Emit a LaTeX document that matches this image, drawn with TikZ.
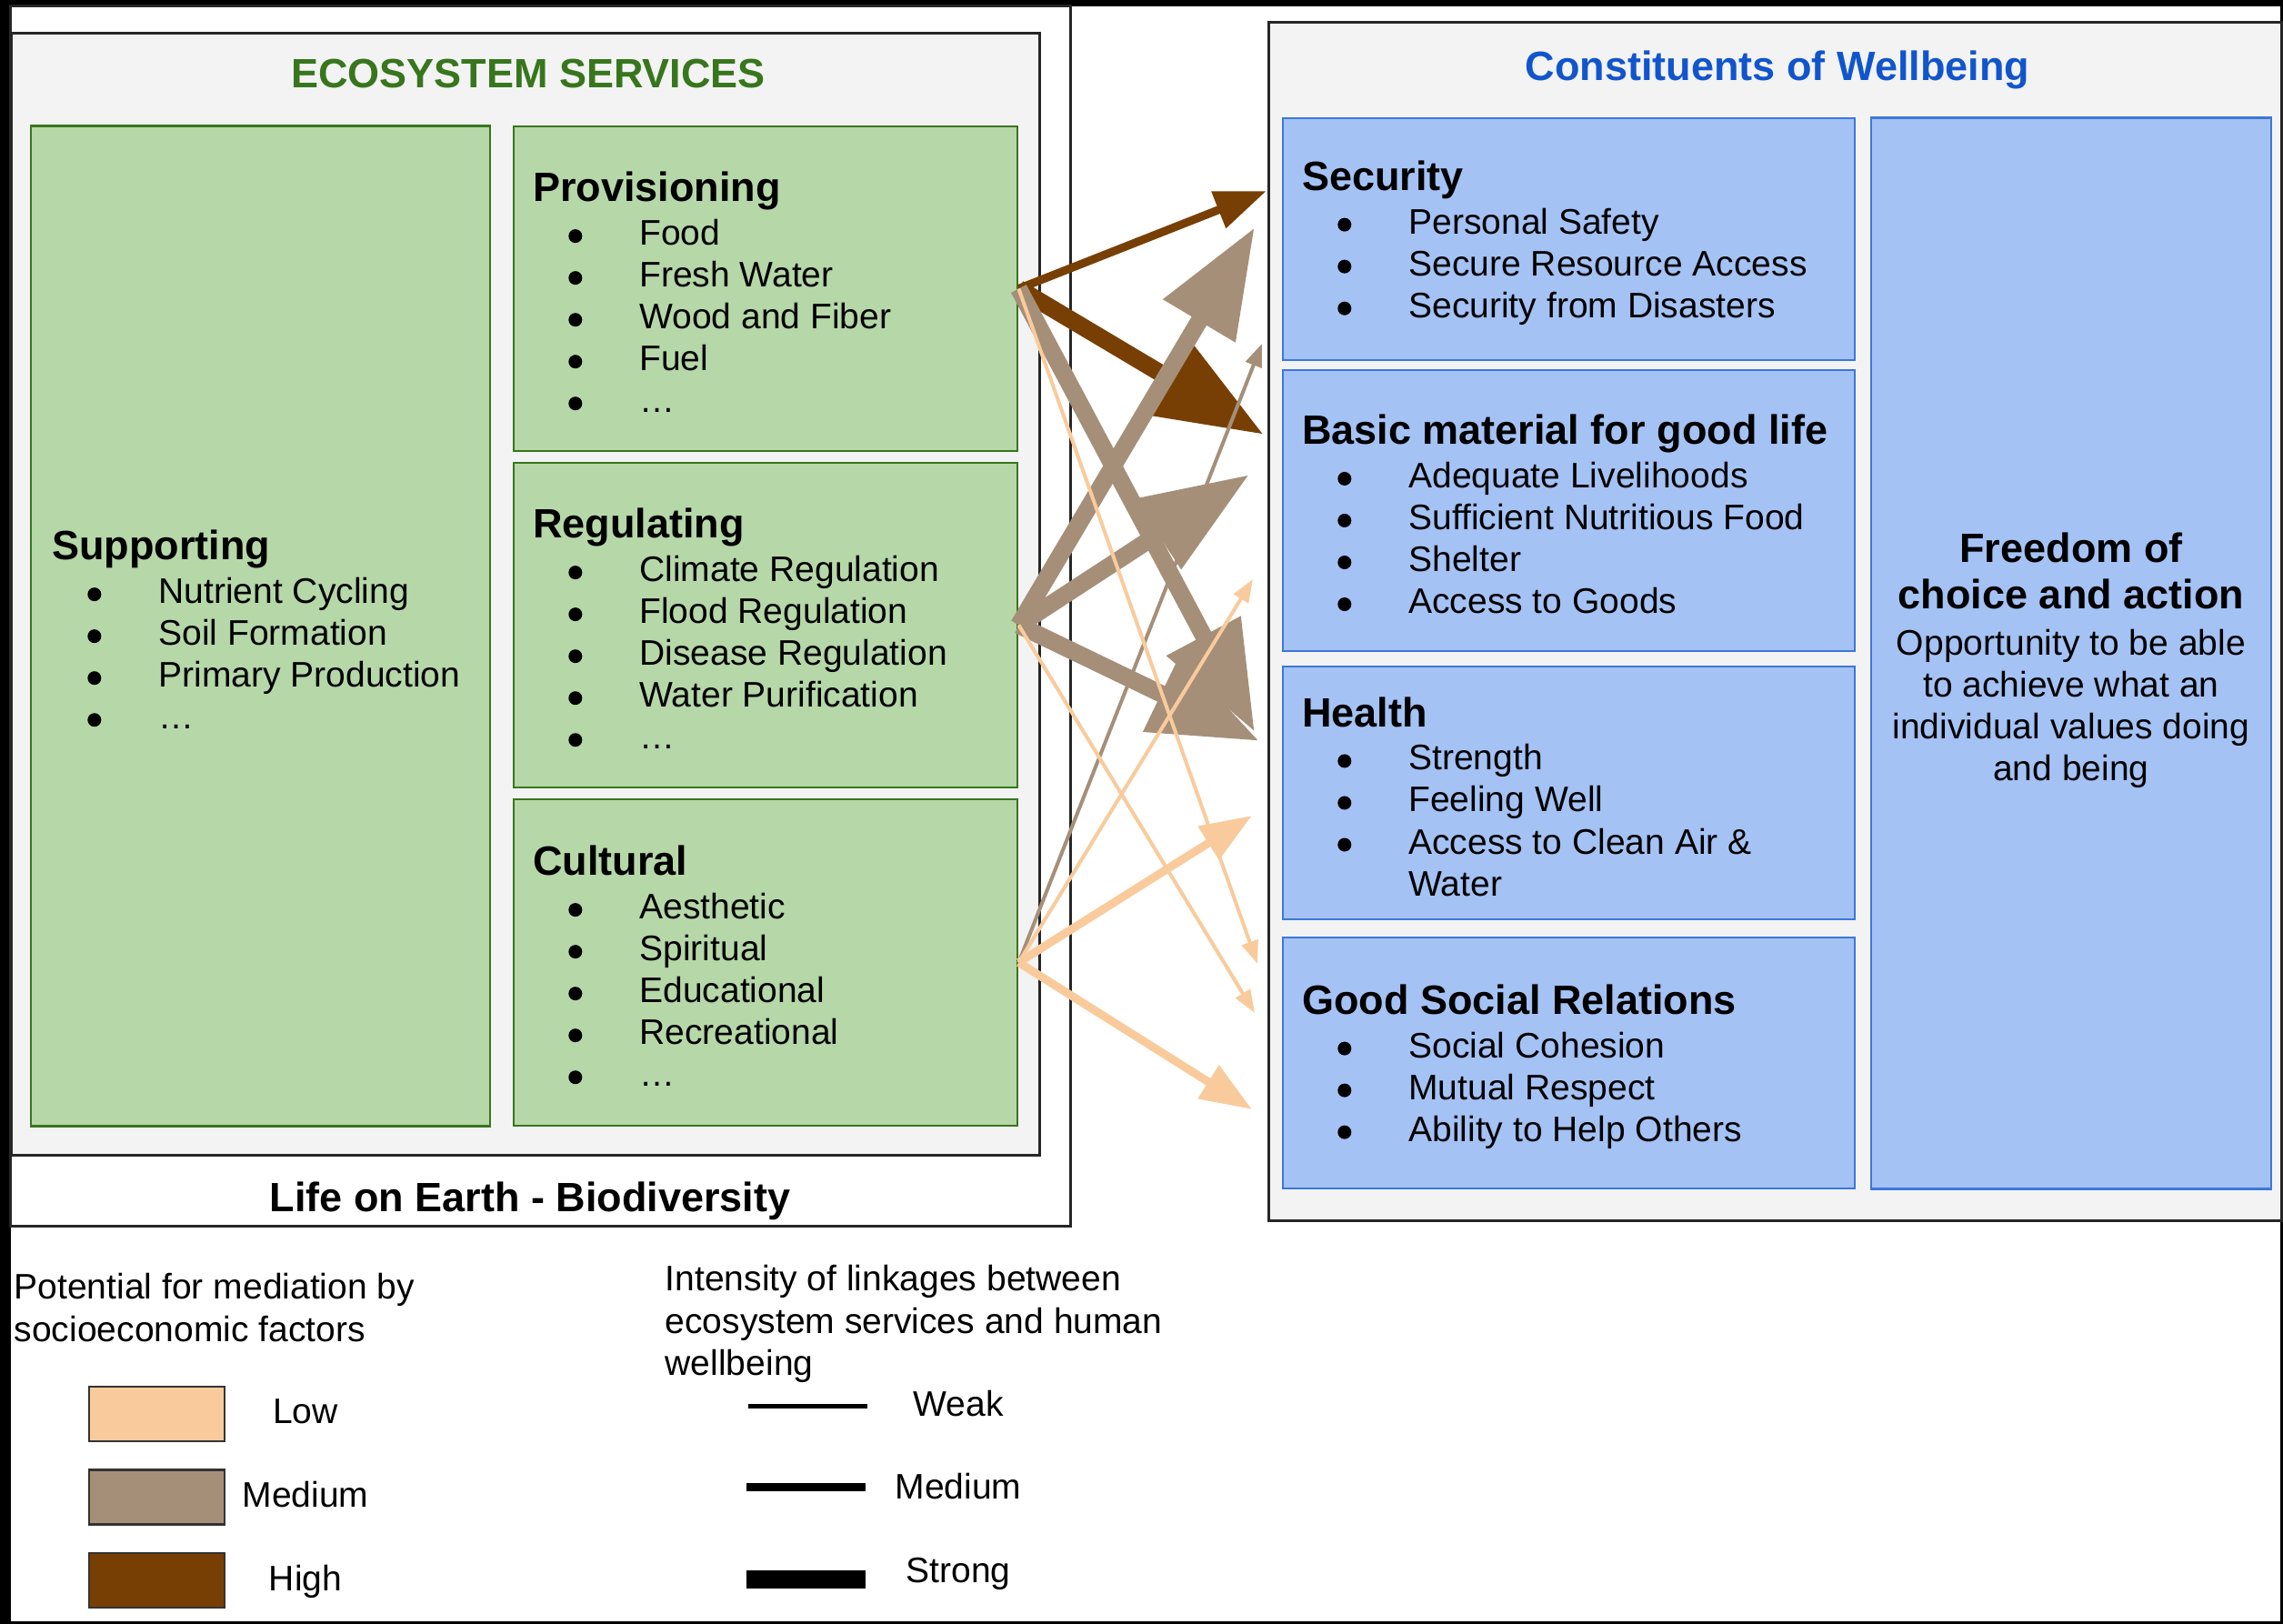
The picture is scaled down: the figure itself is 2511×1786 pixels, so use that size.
\documentclass[tikz,border=0pt]{standalone}
\usepackage{fontspec}
\setmainfont{Liberation Sans}
\usetikzlibrary{arrows.meta}
\definecolor{lowc}{HTML}{F9CB9C}
\definecolor{medc}{HTML}{A68F78}
\definecolor{highc}{HTML}{783F04}
\definecolor{esfill}{HTML}{B6D7A8}
\definecolor{esline}{HTML}{38761D}
\definecolor{cwfill}{HTML}{A4C2F4}
\definecolor{cwline}{HTML}{3C78D8}
\definecolor{cwtitle}{HTML}{1155CC}
\definecolor{panel}{HTML}{F3F3F3}
\newcommand\hdtxt{\fontsize{12.8pt}{14.5pt}\selectfont\bfseries}
\newcommand\ittxt{\fontsize{11.1pt}{13.09pt}\selectfont}
\newcommand\bul{\hspace*{0.39cm}\makebox[0.78cm][l]{\tikz[baseline=0pt]\fill[black] (0.075cm,0.10cm) circle[radius=0.075cm];}}
\begin{document}
\begin{tikzpicture}[x=0.01cm,y=-0.01cm,
    boxframe/.style={draw=black!85,line width=0.025cm,inner sep=0pt},
    svc/.style={draw=esline,fill=esfill,line width=0.025cm,inner sep=0pt},
    cst/.style={draw=cwline,fill=cwfill,line width=0.025cm,inner sep=0pt},
    txt/.style={inner sep=0pt,font=\ittxt,align=left,anchor=west,yshift=-0.04cm},
    swatch/.style={draw=black!80,line width=0.025cm,minimum width=1.49cm,minimum height=0.6cm,inner sep=0pt},
    lnk/.style={-{Triangle[length=0pt 6.3,width=0pt 4.6]}},
    lkweak/.style={lnk,line width=0.04cm},
    lkmed/.style={lnk,line width=0.09cm},
    lkstrong/.style={lnk,line width=0.19cm}]
    \path[use as bounding box] (0,0) rectangle (2511,1786);
    \fill[black] (0,0) rectangle (2511,1786);
    \fill[white] (12,7) rectangle (2508,1783);

    \node[boxframe,fill=white,minimum width=11.65cm,minimum height=13.41cm] (life) at (594.5,677.5) {};
    \node[boxframe,fill=panel,minimum width=11.30cm,minimum height=12.33cm] (es) at (578,653.5) {};
    \node[svc,minimum width=5.05cm,minimum height=10.99cm] (sup) at (286.5,688.5) {};
    \node[svc,minimum width=5.54cm,minimum height=3.57cm] (prov) at (842,317.5) {};
    \node[svc,minimum width=5.54cm,minimum height=3.57cm] (reg) at (842,687.5) {};
    \node[svc,minimum width=5.54cm,minimum height=3.59cm] (cult) at (842,1058.5) {};
    \node[boxframe,fill=panel,minimum width=11.13cm,minimum height=13.17cm] (cw) at (1952.5,683.5) {};
    \node[cst,minimum width=6.29cm,minimum height=2.66cm] (sec) at (1725.5,263) {};
    \node[cst,minimum width=6.29cm,minimum height=3.09cm] (basic) at (1725.5,561.5) {};
    \node[cst,minimum width=6.29cm,minimum height=2.78cm] (health) at (1725.5,872) {};
    \node[cst,minimum width=6.29cm,minimum height=2.76cm] (social) at (1725.5,1169) {};
    \node[cst,minimum width=4.40cm,minimum height=11.77cm] (free) at (2278,718.5) {};

    \node[anchor=base,inner sep=0pt,font=\hdtxt,text=esline] (eshead) at (581,97) {ECOSYSTEM SERVICES};
    \node[anchor=base,inner sep=0pt,font=\hdtxt,text=cwtitle] (cwhead) at (1955,89) {Constituents of Wellbeing};
    \node[anchor=base,inner sep=0pt,font=\hdtxt] (lifehead) at (583,1333) {Life on Earth - Biodiversity};

    \node[txt] (tsup) at ([xshift=0.24cm]sup.west) {{\hdtxt Supporting}\\[0.5pt]\bul Nutrient Cycling\\
        \bul Soil Formation\\
        \bul Primary Production\\
        \bul …};
    \node[txt] (tprov) at ([xshift=0.22cm]prov.west) {{\hdtxt Provisioning}\\[0.5pt]\bul Food\\
        \bul Fresh Water\\
        \bul Wood and Fiber\\
        \bul Fuel\\
        \bul …};
    \node[txt] (treg) at ([xshift=0.22cm]reg.west) {{\hdtxt Regulating}\\[0.5pt]\bul Climate Regulation\\
        \bul Flood Regulation\\
        \bul Disease Regulation\\
        \bul Water Purification\\
        \bul …};
    \node[txt] (tcult) at ([xshift=0.22cm]cult.west) {{\hdtxt Cultural}\\[0.5pt]\bul Aesthetic\\
        \bul Spiritual\\
        \bul Educational\\
        \bul Recreational\\
        \bul …};
    \node[txt] (tsec) at ([xshift=0.22cm]sec.west) {{\hdtxt Security}\\[0.5pt]\bul Personal Safety\\
        \bul Secure Resource Access\\
        \bul Security from Disasters};
    \node[txt] (tbasic) at ([xshift=0.22cm]basic.west) {{\hdtxt Basic material for good life}\\[0.5pt]\bul Adequate Livelihoods\\
        \bul Sufficient Nutritious Food\\
        \bul Shelter\\
        \bul Access to Goods};
    \node[txt] (thealth) at ([xshift=0.22cm]health.west) {{\hdtxt Health}\\[0.5pt]\bul Strength\\
        \bul Feeling Well\\
        \bul Access to Clean Air \&\\
        \hspace*{1.17cm}Water};
    \node[txt] (tsocial) at ([xshift=0.22cm]social.west) {{\hdtxt Good Social Relations}\\[0.5pt]\bul Social Cohesion\\
        \bul Mutual Respect\\
        \bul Ability to Help Others};
    \node[inner sep=0pt,font=\ittxt,align=center,yshift=-0.08cm] (tfree) at (free.center) {{\hdtxt Freedom of}\\[1.4pt]{\hdtxt choice and action}\\[1.4pt]Opportunity to be able\\
        to achieve what an\\
        individual values doing\\
        and being};

    \coordinate (secP) at (1393,210);
    \coordinate (secR) at (1380,250);
    \coordinate (secC) at (1388,378);
    \coordinate (basP) at (1390,478);
    \coordinate (basR) at (1374,522);
    \coordinate (basC) at (1378,637);
    \coordinate (heaP) at (1380,805);
    \coordinate (heaR) at (1385,815);
    \coordinate (heaC) at (1377,897);
    \coordinate (socP) at (1383,1060);
    \coordinate (socR) at (1380,1114);
    \coordinate (socC) at (1377,1220);

    \draw[lkstrong,highc] (prov.east) -- (basP);
    \draw[lkmed,highc] (prov.east) -- (secP);
    \draw[lkstrong,medc] (prov.east) -- (heaP);
    \draw[lkstrong,medc] (reg.east) -- (secR);
    \draw[lkstrong,medc] (reg.east) -- (basR);
    \draw[lkstrong,medc] (reg.east) -- (heaR);
    \draw[lkweak,medc] (cult.east) -- (secC);
    \draw[lkweak,lowc] (prov.east) -- (socP);
    \draw[lkweak,lowc] (reg.east) -- (socR);
    \draw[lkweak,lowc] (cult.east) -- (basC);
    \draw[lkmed,lowc] (cult.east) -- (heaC);
    \draw[lkmed,lowc] (cult.east) -- (socC);

    \node[anchor=north west,inner sep=0pt,font=\ittxt,align=left] (medtitle) at (15,1400) {Potential for mediation by\\
        socioeconomic factors};
    \node[swatch,fill=lowc] (lowsw) at (172.5,1555) {};
    \node[swatch,fill=medc] (medsw) at (172.5,1646.5) {};
    \node[swatch,fill=highc] (highsw) at (172.5,1738) {};
    \node[inner sep=0pt,font=\ittxt] (lowlab) at (336,1552) {Low};
    \node[inner sep=0pt,font=\ittxt] (medlab) at (336,1644) {Medium};
    \node[inner sep=0pt,font=\ittxt] (highlab) at (336,1739) {High};

    \node[anchor=north west,inner sep=0pt,font=\ittxt,align=left] (inttitle) at (731,1391) {Intensity of linkages between\\
        ecosystem services and human\\
        wellbeing};
    \node[inner sep=0pt,font=\ittxt] (wklab) at (1054,1544) {Weak};
    \node[inner sep=0pt,font=\ittxt] (mdlab) at (1054,1635) {Medium};
    \node[inner sep=0pt,font=\ittxt] (stlab) at (1054,1731) {Strong};
    \draw[line width=0.05cm] (823,1547) -- (954,1547);
    \draw[line width=0.09cm] (821,1636) -- (952,1636);
    \draw[line width=0.19cm] (821,1737) -- (952,1737);
\end{tikzpicture}
\end{document}
